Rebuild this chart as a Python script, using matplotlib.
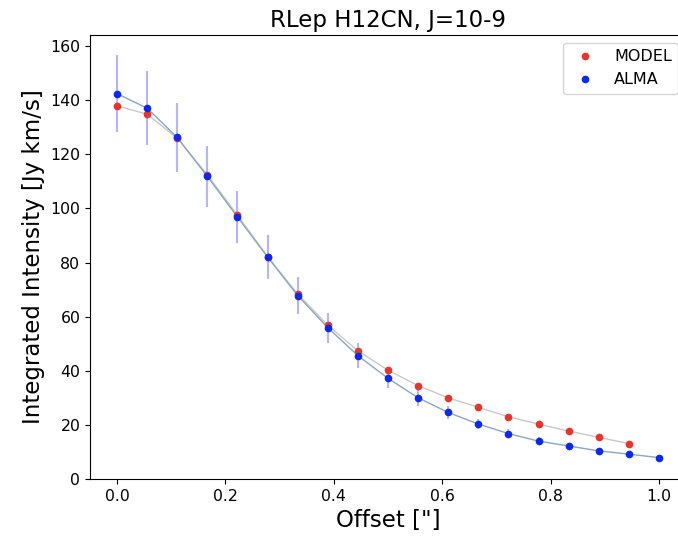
import numpy as np
import matplotlib
matplotlib.use("Agg")
import matplotlib.pyplot as plt

# offsets in arcsec (19 ALMA rings, 18 model rings)
offset_alma = [0.0, 0.0556, 0.1111, 0.1667, 0.2222, 0.2778, 0.3333, 0.3889, 0.4444, 0.5,
               0.5556, 0.6111, 0.6667, 0.7222, 0.7778, 0.8333, 0.8889, 0.9444, 1.0]
offset_model = offset_alma[:-1]

alma = [142.4, 137.0, 126.2, 111.8, 96.8, 82.0, 67.8, 55.9, 45.6, 37.2,
        30.0, 24.6, 20.3, 16.8, 14.0, 12.2, 10.4, 9.2, 7.9]
alma_err = [14.2, 13.7, 12.6, 11.2, 9.7, 8.2, 6.8, 5.6, 4.6, 3.7,
            3.0, 2.5, 2.0, 1.7, 1.4, 1.2, 1.0, 0.9, 0.8]
model = [137.9, 134.8, 125.9, 112.4, 97.5, 82.2, 68.4, 56.8, 47.4, 40.2,
         34.5, 30.0, 26.5, 23.0, 20.3, 17.7, 15.4, 13.1]

fig = plt.figure(figsize=(6.78, 5.42), dpi=100)
ax = fig.add_axes([90/678, 63/542, 596/678, 444/542])

ax.errorbar(offset_alma, alma, yerr=alma_err, fmt='none', ecolor='#b4b4ff', elinewidth=1.5, zorder=1)
ax.plot(offset_model, model, '-', color='#c8c8c8', lw=1, zorder=2)
ax.plot(offset_alma, alma, '-', color='#8aa6c0', lw=1, zorder=2)
ax.plot(offset_model, model, 'o', color='#e8342a', ms=4.5, label='MODEL', zorder=3)
ax.plot(offset_alma, alma, 'o', color='#0a28f0', ms=4.5, label='ALMA', zorder=4)

ax.set_ylim(bottom=0)
ax.tick_params(labelsize=11.3)
ax.set_title('RLep H12CN, J=10-9', fontsize=16.5)
ax.set_xlabel('Offset ["]', fontsize=16.5)
ax.set_ylabel('Integrated Intensity [Jy km/s]', fontsize=16.5)
ax.legend(loc='upper right', fontsize=11.5, numpoints=1)

fig.savefig('out.png', dpi=100)
